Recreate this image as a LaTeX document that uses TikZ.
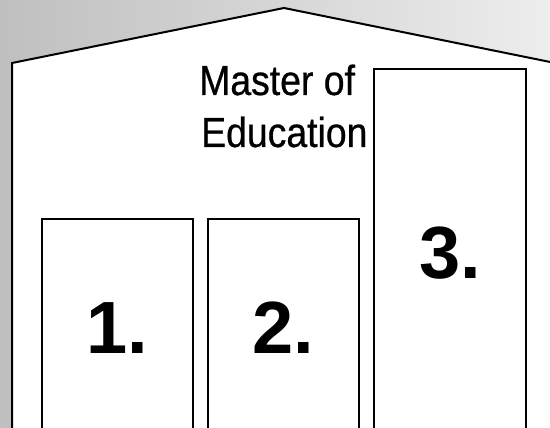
\documentclass[tikz,border=0pt]{standalone}
\usepackage{fontspec}
\setmainfont{Liberation Sans}
\newfontfamily\narrowfont[FakeStretch=0.89,FakeBold=0.6]{Liberation Sans}
\begin{document}
\begin{tikzpicture}[x=1pt,y=-1pt,
  house/.style={draw=black, line width=2pt, fill=white, line join=miter},
  boxframe/.style={draw=black, line width=1.4pt, fill=white},
  numtext/.style={font=\fontsize{74}{80}\selectfont\bfseries, anchor=base, inner sep=0pt},
  titletext/.style={font=\narrowfont\fontsize{42}{48}\selectfont, anchor=base west, inner sep=0pt}]
\useasboundingbox (0,0) rectangle (550,428);
\clip (0,0) rectangle (550,428);
\shade[left color=black!25, right color=black!7] (0,0) rectangle (550,428);
\draw[house] (12,440) -- (12,63) -- (284,8) -- (565,65) -- (565,440) -- cycle;
\draw[boxframe] (42,219) rectangle (193,440);
\draw[boxframe] (208,219) rectangle (359,440);
\draw[boxframe] (374,69) rectangle (526,440);
\node[titletext] (master) at (199,95) {Master of};
\node[titletext] (edu) at (201,147) {Education};
\node[numtext] (n1) at (117.5,353) {1.};
\node[numtext] (n2) at (283.5,353) {2.};
\node[numtext] (n3) at (450,278) {3.};
\end{tikzpicture}
\end{document}
